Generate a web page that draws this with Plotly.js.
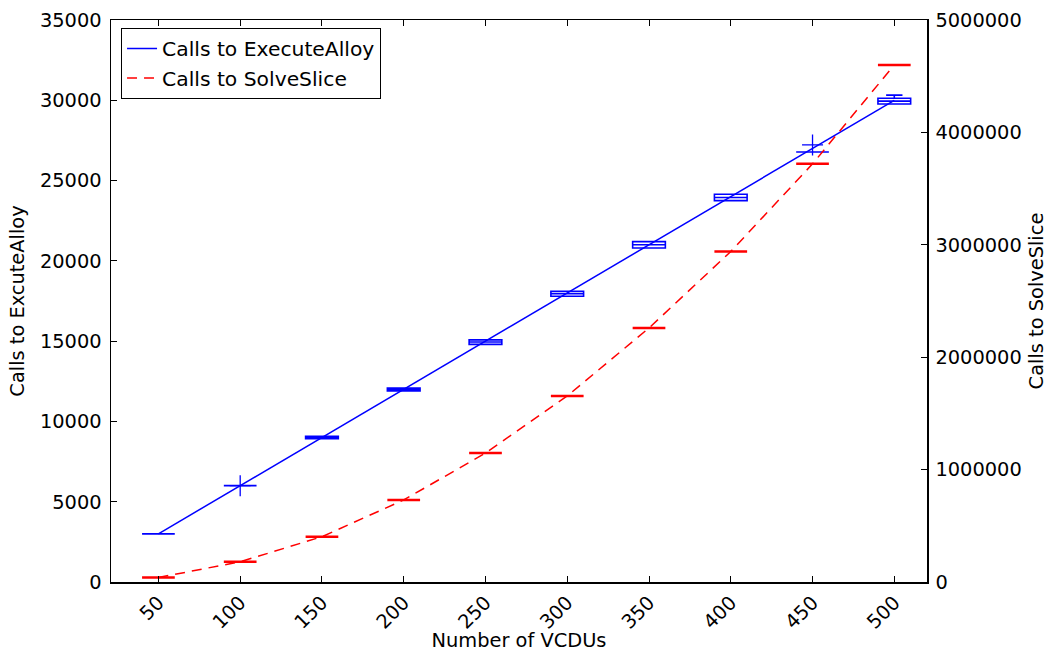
<!DOCTYPE html>
<html>
<head>
<meta charset="utf-8">
<script src="https://cdn.plot.ly/plotly-3.0.1.min.js"></script>
<style>html,body{margin:0;padding:0;background:#fff;}#chart{width:1048px;height:652px;}</style>
</head>
<body>
<div id="chart"></div>
<script>
// ---- data ----
const vcdus = [50, 100, 150, 200, 250, 300, 350, 400, 450, 500];
const tickLabels = ['50', '100', '150', '200', '250', '300', '350', '400', '450', '500'];

// Calls to ExecuteAlloy (left axis) - box statistics
const eaQ1     = [3000, 6000, 8930, 11900, 14800, 17800, 20800, 23750, 26780, 29770];
const eaMedian = [3000, 6000, 9000, 12000, 14950, 17950, 21000, 23950, 26780, 29950];
const eaQ3     = [3000, 6000, 9070, 12080, 15080, 18100, 21200, 24150, 26780, 30130];
const eaLow    = [3000, 6000, 8930, 11900, 14800, 17800, 20800, 23750, 26780, 29770];
const eaHigh   = [3000, 6000, 9070, 12080, 15080, 18100, 21200, 24150, 26780, 30320];
const eaLine   = [3000, 6000, 9000, 12000, 15000, 18000, 21000, 24000, 27000, 30000];
const eaOutX   = [100, 450];
const eaOutY   = [6000, 27220];

// Calls to SolveSlice (right axis)
const ssMedian = [40000, 180000, 403000, 730000, 1147000, 1655000, 2260000, 2940000, 3720000, 4600000];
const ssLine   = [40000, 180000, 403000, 730000, 1147000, 1655000, 2260000, 2940000, 3720000, 4600000];

const BLUE = '#0000ff';
const RED = '#ff0000';
const FONT = 'DejaVu Sans, sans-serif';
const FS = 19.4;

const traces = [
  {
    type: 'box', x: vcdus, q1: eaQ1, median: eaMedian, q3: eaQ3,
    lowerfence: eaLow, upperfence: eaHigh, width: 20, whiskerwidth: 0.5,
    boxpoints: false, line: {color: BLUE, width: 1.6}, fillcolor: 'rgba(0,0,0,0)',
    showlegend: false, hoverinfo: 'skip', xaxis: 'x', yaxis: 'y'
  },
  {
    type: 'scatter', mode: 'markers', x: eaOutX, y: eaOutY,
    marker: {symbol: 'cross-thin', size: 15, line: {color: BLUE, width: 1.3}},
    showlegend: false, hoverinfo: 'skip', xaxis: 'x', yaxis: 'y'
  },
  {
    type: 'scatter', mode: 'lines', x: vcdus, y: eaLine, name: 'Calls to ExecuteAlloy',
    line: {color: BLUE, width: 1.5}, xaxis: 'x', yaxis: 'y'
  },
  {
    type: 'box', x: vcdus, q1: ssMedian, median: ssMedian, q3: ssMedian,
    lowerfence: ssMedian, upperfence: ssMedian, width: 20, whiskerwidth: 0.5,
    boxpoints: false, line: {color: RED, width: 2.5}, fillcolor: 'rgba(0,0,0,0)',
    showlegend: false, hoverinfo: 'skip', xaxis: 'x', yaxis: 'y2'
  },
  {
    type: 'scatter', mode: 'lines', x: vcdus, y: ssLine, name: 'Calls to SolveSlice',
    line: {color: RED, width: 1.5, dash: '10px,7px'}, xaxis: 'x', yaxis: 'y2'
  }
];

const axisCommon = {
  showgrid: false, zeroline: false, showline: true, linecolor: '#000', linewidth: 1.5,
  ticks: 'inside', ticklen: 6, tickwidth: 1, tickcolor: '#000',
  tickfont: {family: FONT, size: FS, color: '#000'}
};

const layout = {
  width: 1048, height: 652,
  margin: {l: 111, r: 121, t: 20, b: 70, pad: 0},
  paper_bgcolor: '#fff', plot_bgcolor: '#fff',
  font: {family: FONT, size: FS, color: '#000'},
  boxmode: 'overlay',
  showlegend: true,
  legend: {
    x: 0.0123, y: 0.986, xanchor: 'left', yanchor: 'top',
    bordercolor: '#000', borderwidth: 1, bgcolor: '#fff',
    font: {family: FONT, size: 20.3, color: '#000'}
  },
  xaxis: Object.assign({}, axisCommon, {
    range: [21, 520], tickmode: 'array', tickvals: vcdus, ticktext: tickLabels,
    tickangle: -45, mirror: 'ticks',
    title: {text: 'Number of VCDUs', font: {family: FONT, size: FS, color: '#000'}, standoff: 0}
  }),
  yaxis: Object.assign({}, axisCommon, {
    range: [0, 35000], tickmode: 'linear', tick0: 0, dtick: 5000, tickformat: 'd',
    ticklabelstandoff: 4,
    title: {text: 'Calls to ExcuteAlloy', font: {family: FONT, size: FS, color: '#000'}, standoff: 10}
  }),
  yaxis2: Object.assign({}, axisCommon, {
    overlaying: 'y', side: 'right', anchor: 'x',
    range: [0, 5000000], tickmode: 'linear', tick0: 0, dtick: 1000000, tickformat: 'd',
    ticklabelstandoff: 3,
    title: {text: 'Calls to SolveSlice', font: {family: FONT, size: FS, color: '#000'}, standoff: 14}
  })
};

Plotly.newPlot('chart', traces, layout, {displayModeBar: false, staticPlot: true});
</script>
</body>
</html>
